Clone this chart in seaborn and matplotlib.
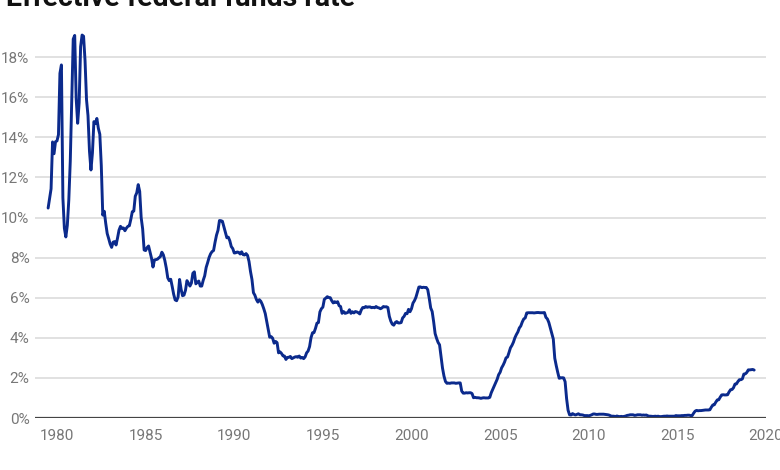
import numpy as np
import pandas as pd
import matplotlib
matplotlib.use("Agg")
import matplotlib.pyplot as plt
import seaborn as sns

# Effective federal funds rate, monthly (%), Jul 1979 .. May 2019
start_year = 1979
start_month = 7
r1979 = [10.47, 10.94, 11.43, 13.77, 13.18, 13.78]
r1980 = [13.82, 14.13, 17.19, 17.61, 10.98, 9.47, 9.03, 9.61, 10.87, 12.81, 15.85, 18.90]
r1981 = [19.08, 15.93, 14.70, 15.72, 18.52, 19.10, 19.04, 17.82, 15.87, 15.08, 13.31, 12.37]
r1982 = [13.22, 14.78, 14.68, 14.94, 14.45, 14.15, 12.59, 10.12, 10.31, 9.71, 9.20, 8.95]
r1983 = [8.68, 8.51, 8.77, 8.80, 8.63, 8.98, 9.37, 9.56, 9.45, 9.48, 9.34, 9.47]
r1984 = [9.56, 9.59, 9.91, 10.29, 10.32, 11.06, 11.23, 11.64, 11.30, 9.99, 9.43, 8.38]
r1985 = [8.35, 8.50, 8.58, 8.27, 7.97, 7.53, 7.88, 7.90, 7.92, 7.99, 8.05, 8.27]
r1986 = [8.14, 7.86, 7.48, 6.99, 6.85, 6.92, 6.56, 6.17, 5.89, 5.85, 6.04, 6.91]
r1987 = [6.43, 6.10, 6.13, 6.37, 6.85, 6.73, 6.58, 6.73, 7.22, 7.29, 6.69, 6.77]
r1988 = [6.83, 6.58, 6.58, 6.87, 7.09, 7.51, 7.75, 8.01, 8.19, 8.30, 8.35, 8.76]
r1989 = [9.12, 9.36, 9.85, 9.84, 9.81, 9.53, 9.24, 8.99, 9.02, 8.84, 8.55, 8.45]
r1990 = [8.23, 8.24, 8.28, 8.26, 8.18, 8.29, 8.15, 8.13, 8.20, 8.11, 7.81, 7.31]
r1991 = [6.91, 6.25, 6.12, 5.91, 5.78, 5.90, 5.82, 5.66, 5.45, 5.21, 4.81, 4.43]
r1992 = [4.03, 4.06, 3.98, 3.73, 3.82, 3.76, 3.25, 3.30, 3.22, 3.10, 3.09, 2.92]
r1993 = [3.02, 3.03, 3.07, 2.96, 3.00, 3.04, 3.06, 3.03, 3.09, 2.99, 3.02, 2.96]
r1994 = [3.05, 3.25, 3.34, 3.56, 4.01, 4.25, 4.26, 4.47, 4.73, 4.76, 5.29, 5.45]
r1995 = [5.53, 5.92, 5.98, 6.05, 6.01, 6.00, 5.85, 5.74, 5.80, 5.76, 5.80, 5.60]
r1996 = [5.56, 5.22, 5.31, 5.22, 5.24, 5.27, 5.40, 5.22, 5.30, 5.24, 5.31, 5.29]
r1997 = [5.25, 5.19, 5.39, 5.51, 5.50, 5.56, 5.52, 5.54, 5.54, 5.50, 5.52, 5.50]
r1998 = [5.56, 5.51, 5.49, 5.45, 5.49, 5.56, 5.54, 5.55, 5.51, 5.07, 4.83, 4.68]
r1999 = [4.63, 4.76, 4.81, 4.74, 4.74, 4.76, 4.99, 5.07, 5.22, 5.20, 5.42, 5.30]
r2000 = [5.45, 5.73, 5.85, 6.02, 6.27, 6.53, 6.54, 6.50, 6.52, 6.51, 6.51, 6.40]
r2001 = [5.98, 5.49, 5.31, 4.80, 4.21, 3.97, 3.77, 3.65, 3.07, 2.49, 2.09, 1.82]
r2002 = [1.73, 1.74, 1.73, 1.75, 1.75, 1.75, 1.73, 1.74, 1.75, 1.75, 1.34, 1.24]
r2003 = [1.24, 1.26, 1.25, 1.26, 1.26, 1.22, 1.01, 1.03, 1.01, 1.01, 1.00, 0.98]
r2004 = [1.00, 1.01, 1.00, 1.00, 1.00, 1.03, 1.26, 1.43, 1.61, 1.76, 1.93, 2.16]
r2005 = [2.28, 2.50, 2.63, 2.79, 3.00, 3.04, 3.26, 3.50, 3.62, 3.78, 4.00, 4.16]
r2006 = [4.29, 4.49, 4.59, 4.79, 4.94, 4.99, 5.24, 5.25, 5.25, 5.25, 5.25, 5.24]
r2007 = [5.25, 5.26, 5.26, 5.25, 5.25, 5.25, 5.26, 5.02, 4.94, 4.76, 4.49, 4.24]
r2008 = [3.94, 2.98, 2.61, 2.28, 1.98, 2.00, 2.01, 2.00, 1.81, 0.97, 0.39, 0.16]
r2009 = [0.15, 0.22, 0.18, 0.15, 0.18, 0.21, 0.16, 0.16, 0.15, 0.12, 0.12, 0.12]
r2010 = [0.11, 0.13, 0.16, 0.20, 0.20, 0.18, 0.18, 0.19, 0.19, 0.19, 0.19, 0.18]
r2011 = [0.17, 0.16, 0.14, 0.10, 0.09, 0.09, 0.07, 0.10, 0.08, 0.07, 0.08, 0.07]
r2012 = [0.08, 0.10, 0.13, 0.14, 0.16, 0.16, 0.16, 0.13, 0.14, 0.16, 0.16, 0.16]
r2013 = [0.14, 0.15, 0.14, 0.15, 0.11, 0.09, 0.09, 0.08, 0.08, 0.09, 0.08, 0.09]
r2014 = [0.07, 0.07, 0.08, 0.09, 0.09, 0.10, 0.09, 0.09, 0.09, 0.09, 0.09, 0.12]
r2015 = [0.11, 0.11, 0.11, 0.12, 0.12, 0.13, 0.13, 0.14, 0.14, 0.12, 0.12, 0.24]
r2016 = [0.34, 0.38, 0.36, 0.37, 0.37, 0.38, 0.39, 0.40, 0.40, 0.40, 0.41, 0.54]
r2017 = [0.65, 0.66, 0.79, 0.90, 0.91, 1.04, 1.15, 1.16, 1.15, 1.15, 1.16, 1.30]
r2018 = [1.41, 1.42, 1.51, 1.69, 1.70, 1.82, 1.91, 1.91, 1.95, 2.19, 2.20, 2.27]
r2019 = [2.40, 2.40, 2.41, 2.42, 2.39]

x_ticks = [1980, 1985, 1990, 1995, 2000, 2005, 2010, 2015, 2020]
y_ticks = [0, 2, 4, 6, 8, 10, 12, 14, 16, 18]
title = "Effective federal funds rate"

rates = (r1979 + r1980 + r1981 + r1982 + r1983 + r1984 + r1985 + r1986 + r1987
         + r1988 + r1989 + r1990 + r1991 + r1992 + r1993 + r1994 + r1995 + r1996
         + r1997 + r1998 + r1999 + r2000 + r2001 + r2002 + r2003 + r2004 + r2005
         + r2006 + r2007 + r2008 + r2009 + r2010 + r2011 + r2012 + r2013 + r2014
         + r2015 + r2016 + r2017 + r2018 + r2019)
months = np.arange(len(rates))
year_frac = start_year + (start_month - 1) / 12 + months / 12
df = pd.DataFrame({"year": year_frac, "rate": rates})

sns.set_theme(style="white")
plt.rcParams["font.family"] = ["Roboto", "DejaVu Sans"]

fig = plt.figure(figsize=(7.8, 4.7), dpi=100)
ax = fig.add_axes([35 / 780, 1 - 418 / 470, (766 - 35) / 780, (418 - 17) / 470])

sns.lineplot(data=df, x="year", y="rate", ax=ax, color="#0b2a8c", linewidth=2.1, zorder=3)

ax.set_xlim(1978.76, 2020.0)
ax.set_ylim(0, 20)
ax.set_yticks(y_ticks)
ax.set_yticklabels([f"{v}%" for v in y_ticks])
ax.set_xticks(x_ticks)
ax.set_xticklabels([str(v) for v in x_ticks])
ax.set_xlabel("")
ax.set_ylabel("")

for v in y_ticks[1:]:
    ax.axhline(v, color="#dedede", linewidth=1.3, zorder=1)
ax.axhline(0, color="#444444", linewidth=1.6, zorder=4)

for s in ax.spines.values():
    s.set_visible(False)
ax.tick_params(axis="both", length=0, labelsize=11, colors="#777777")
ax.tick_params(axis="y", pad=4)
ax.tick_params(axis="x", pad=8)
for lbl in ax.get_yticklabels():
    lbl.set_horizontalalignment("right")

fig.text(6 / 780, 1 - 6 / 470, title, fontsize=20.5, fontweight="bold",
         color="#111111", ha="left", va="baseline")

fig.savefig("out.png", dpi=100)
